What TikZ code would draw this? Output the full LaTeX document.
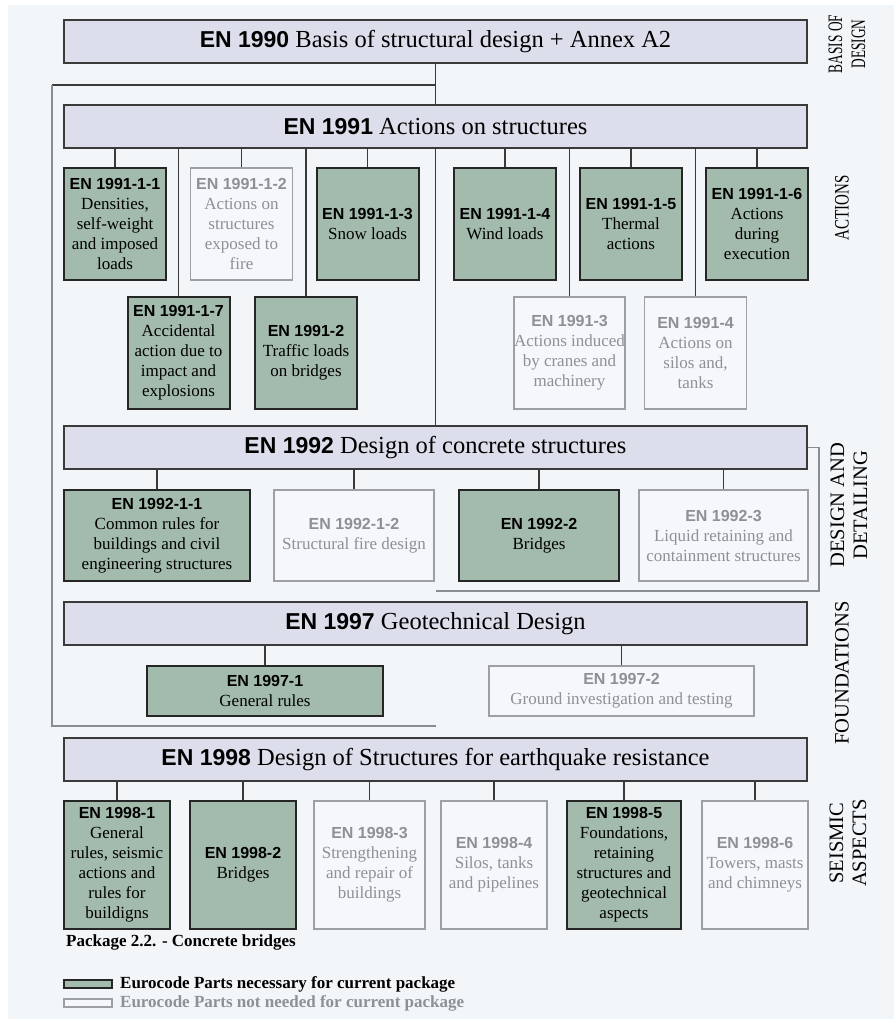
\documentclass[tikz,border=0pt]{standalone}
\usepackage{fontspec}
\setmainfont{Liberation Serif}
\setsansfont{Liberation Sans}
\usepackage{graphicx}
\usepackage{tikz}

\definecolor{bgc}{HTML}{F2F6F9}
\definecolor{headfill}{HTML}{DCDFEB}
\definecolor{needfill}{HTML}{A3BBAD}
\definecolor{sparefill}{HTML}{F5F7FA}
\definecolor{spareline}{HTML}{9C9FA3}
\definecolor{sparetext}{HTML}{8E9194}
\definecolor{linkc}{HTML}{3A3A3A}
\definecolor{framec}{HTML}{8A8D90}

\newcommand{\partno}[1]{{\sffamily\bfseries\fontsize{16}{20}\selectfont #1}}
\newcommand{\headno}[1]{{\sffamily\bfseries\fontsize{23}{28}\selectfont #1}}

\begin{document}
\begin{tikzpicture}[x=1pt, y=-1pt,
    head/.style={draw=linkc, fill=headfill, line width=1.5pt, minimum width=743pt,
                 minimum height=43pt, inner sep=0pt, font=\fontsize{24.5}{28}\selectfont},
    part/.style={align=center, inner sep=0pt, font=\fontsize{17}{20}\selectfont},
    need/.style={part, draw=black!85, fill=needfill, line width=2pt},
    spare/.style={part, draw=spareline, fill=sparefill, line width=1.5pt, text=sparetext},
    act/.style={minimum width=102pt, minimum height=112pt},
    des/.style={minimum width=#1, minimum height=91pt},
    fnd/.style={minimum width=#1, minimum height=50pt},
    seis/.style={minimum width=#1, minimum height=128pt},
    link/.style={draw=linkc, line width=1.2pt},
    frame/.style={draw=framec, line width=1.2pt},
    side/.style={rotate=90, align=center, inner sep=0pt, font=\fontsize{20.5}{23}\selectfont},
    keytext/.style={anchor=west, inner sep=0pt, font=\bfseries\fontsize{17}{20}\selectfont}]

    \useasboundingbox (0,0) rectangle (894,1019);
    \fill[white] (0,0) rectangle (894,1019);
    \fill[bgc] (8,5) rectangle (894,1019);

    % Main parts
    \node[head] (h90) at (435.5,41.5) {\headno{EN 1990} Basis of structural design + Annex A2};
    \node[head] (h91) at (435.5,126.5) {\headno{EN 1991} Actions on structures};
    \node[head] (h92) at (435.5,447.5) {\headno{EN 1992} Design of concrete structures};
    \node[head] (h97) at (435.5,623.5) {\headno{EN 1997} Geotechnical Design};
    \node[head] (h98) at (435.5,759.5) {\headno{EN 1998} Design of Structures for earthquake resistance};

    % Actions
    \node[need, act] (a11) at (115,224) {\partno{EN 1991-1-1}\\Densities,\\self-weight\\and imposed\\loads};
    \node[spare, act] (a12) at (241.5,224) {\partno{EN 1991-1-2}\\Actions on\\structures\\exposed to\\fire};
    \node[need, act] (a13) at (367.5,224) {\partno{EN 1991-1-3}\\Snow loads};
    \node[need, act] (a14) at (505,224) {\partno{EN 1991-1-4}\\Wind loads};
    \node[need, act] (a15) at (631,224) {\partno{EN 1991-1-5}\\Thermal\\actions};
    \node[need, act] (a16) at (757,224) {\partno{EN 1991-1-6}\\Actions\\during\\execution};
    \node[need, act] (a17) at (178.5,353) {\partno{EN 1991-1-7}\\Accidental\\action due to\\impact and\\explosions};
    \node[need, act] (a2) at (306,353) {\partno{EN 1991-2}\\Traffic loads\\on bridges};
    \node[spare, act] (a3) at (569.5,353) {\partno{EN 1991-3}\\Actions induced\\by cranes and\\machinery};
    \node[spare, act] (a4) at (695.5,353) {\partno{EN 1991-4}\\Actions on\\silos and,\\tanks};

    % Design and detailing
    \node[need, des=186pt] (d11) at (157,535.5) {\partno{EN 1992-1-1}\\Common rules for\\buildings and civil\\engineering structures};
    \node[spare, des=160pt] (d12) at (354,535.5) {\partno{EN 1992-1-2}\\Structural fire design};
    \node[need, des=160pt] (d2) at (539,535.5) {\partno{EN 1992-2}\\Bridges};
    \node[spare, des=169pt] (d3) at (723.5,535.5) {\partno{EN 1992-3}\\Liquid retaining and\\containment structures};

    % Foundations
    \node[need, fnd=236pt] (f1) at (265,691) {\partno{EN 1997-1}\\General rules};
    \node[spare, fnd=265pt] (f2) at (621.5,691) {\partno{EN 1997-2}\\Ground investigation and testing};

    % Seismic aspects
    \node[need, seis=106pt] (s1) at (117,865) {\partno{EN 1998-1}\\General\\rules, seismic\\actions and\\rules for\\buildigns};
    \node[need, seis=106pt] (s2) at (243,865) {\partno{EN 1998-2}\\Bridges};
    \node[spare, seis=111pt] (s3) at (369.5,865) {\partno{EN 1998-3}\\Strengthening\\and repair of\\buildings};
    \node[spare, seis=106pt] (s4) at (494,865) {\partno{EN 1998-4}\\Silos, tanks\\and pipelines};
    \node[need, seis=114pt] (s5) at (624,865) {\partno{EN 1998-5}\\Foundations,\\retaining\\structures and\\geotechnical\\aspects};
    \node[spare, seis=106pt] (s6) at (755,865) {\partno{EN 1998-6}\\Towers, masts\\and chimneys};

    % Side labels
    \node[side] (lbasis) at (847,44) {\scalebox{0.65}[1]{BASIS OF}\\\scalebox{0.65}[1]{DESIGN}};
    \node[side] (lact) at (842,208) {\scalebox{0.73}[1]{ACTIONS}};
    \node[side] (ldes) at (849,505) {DESIGN AND\\DETAILING};
    \node[side] (lfnd) at (842,673) {FOUNDATIONS};
    \node[side] (lseis) at (848,843) {SEISMIC\\ASPECTS};

    % Key
    \node[keytext] (pkg) at (66,942) {Package 2.2. - Concrete bridges};
    \node[need, minimum width=48pt, minimum height=8pt] (keyneed) at (88,984) {};
    \node[keytext] (keyneedtext) at (120,984) {Eurocode Parts necessary for current package};
    \node[spare, minimum width=48pt, minimum height=8pt] (keyspare) at (88,1003) {};
    \node[keytext, text=sparetext] (keysparetext) at (120,1003) {Eurocode Parts not needed for current package};

    % Frame round actions to foundations
    \coordinate (tap) at (435.5,85);
    \coordinate (fl) at (52,85);
    \coordinate (fb) at (52,726);
    \coordinate (fe) at (435.5,726);
    \coordinate (bkr) at (819,591);
    \coordinate (bk) at (435.5,591);
    \draw[link] (tap) -- (fl);
    \draw[frame] (fl) -- (fb) -- (fe);
    \draw[frame] (h92.east) -| (bkr) -- (bk);

    % Edges
    \draw[link] (h90) edge (h91)
                (h91) edge (h92)
                (a11.north) edge (a11.north |- h91.south)
                (a12.north) edge (a12.north |- h91.south)
                (a13.north) edge (a13.north |- h91.south)
                (a14.north) edge (a14.north |- h91.south)
                (a15.north) edge (a15.north |- h91.south)
                (a16.north) edge (a16.north |- h91.south)
                (a17.north) edge (a17.north |- h91.south)
                (a2.north) edge (a2.north |- h91.south)
                (a3.north) edge (a3.north |- h91.south)
                (a4.north) edge (a4.north |- h91.south)
                (d11.north) edge (d11.north |- h92.south)
                (d12.north) edge (d12.north |- h92.south)
                (d2.north) edge (d2.north |- h92.south)
                (d3.north) edge (d3.north |- h92.south)
                (f1.north) edge (f1.north |- h97.south)
                (f2.north) edge (f2.north |- h97.south)
                (s1.north) edge (s1.north |- h98.south)
                (s2.north) edge (s2.north |- h98.south)
                (s3.north) edge (s3.north |- h98.south)
                (s4.north) edge (s4.north |- h98.south)
                (s5.north) edge (s5.north |- h98.south)
                (s6.north) edge (s6.north |- h98.south);
\end{tikzpicture}
\end{document}
